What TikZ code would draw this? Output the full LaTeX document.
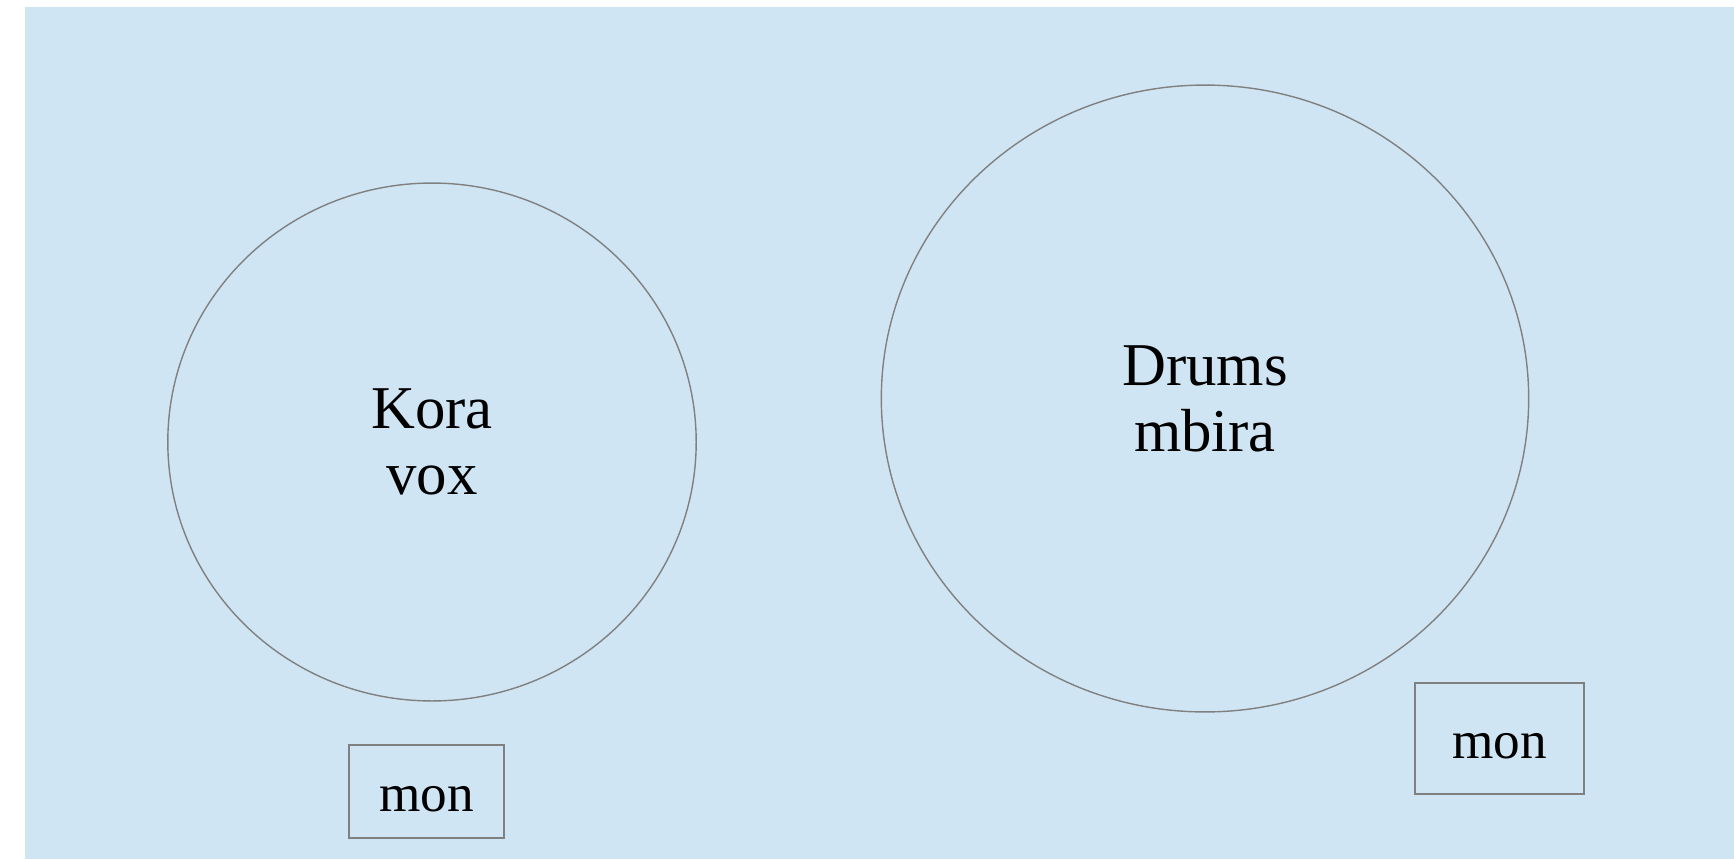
\documentclass[tikz,border=0pt]{standalone}
\usepackage{fontspec}
\setmainfont{Liberation Serif}
\usetikzlibrary{shapes.geometric,positioning}
\definecolor{stagebg}{RGB}{208,229,243}
\definecolor{stageline}{RGB}{128,128,128}
\def\zonefont{\fontsize{34.6}{37.5}\selectfont}
\def\monfont{\fontsize{30.3}{33}\selectfont}

\begin{document}
\begin{tikzpicture}[x=0.02cm, y=-0.02cm,
  zone/.style={ellipse, draw=stageline, line width=0.8pt, align=center, inner sep=0pt, font=\zonefont},
  monbox/.style={rectangle, draw=stageline, line width=0.8pt, inner sep=0pt, text height=23pt, font=\monfont}]
  \useasboundingbox (0,0) rectangle (1734,859);

  % stage
  \fill[stagebg] (25,7) rectangle (1734,859);

  % Kora / vox
  \node[zone, minimum width=10.57cm, minimum height=10.36cm] (kora) at (432,442) {Kora\\vox};
  \node[monbox, minimum width=3.1cm, minimum height=1.86cm] (monleft) at (426.5,791.5) {mon};

  % Drums / mbira
  \node[zone, minimum width=12.95cm, minimum height=12.54cm] (drums) at (1205,398.5) {Drums\\mbira};
  \node[monbox, minimum width=3.38cm, minimum height=2.22cm] (monright) at (1499.5,738.5) {mon};
\end{tikzpicture}
\end{document}
